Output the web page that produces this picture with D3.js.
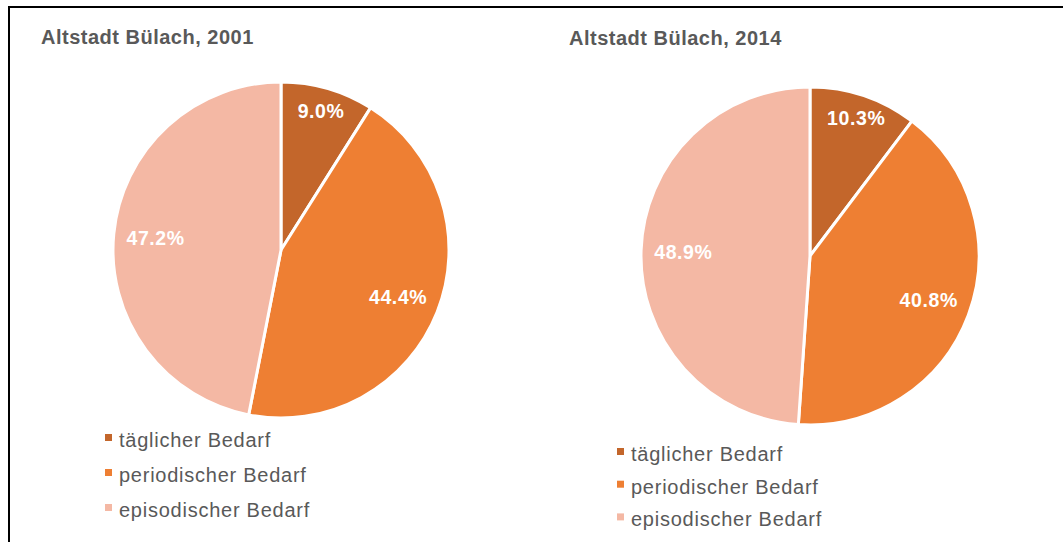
<!DOCTYPE html>
<html>
<head>
<meta charset="utf-8">
<script src="https://cdn.jsdelivr.net/npm/d3@7"></script>
<style>
  html, body { margin: 0; padding: 0; background: #fff; }
  svg { display: block; }
</style>
</head>
<body>
<svg id="chart" width="1063" height="542"></svg>
<script>
// Einzelhandelsangebot nach Bedarfsstufe, Altstadt Bülach
const categories = ["täglicher Bedarf", "periodischer Bedarf", "episodischer Bedarf"];
const colors = ["#C3662B", "#EE7F33", "#F4B8A4"];
const titles = ["Altstadt Bülach, 2001", "Altstadt Bülach, 2014"];
const values2001 = [9.0, 44.4, 47.2];
const values2014 = [10.3, 40.8, 48.9];

const svg = d3.select("#chart");
const W = 1063, H = 542;
const FONT = "Liberation Sans, Arial, sans-serif";

// frame: top and left edge only
svg.append("line").attr("x1", 8).attr("y1", 7).attr("x2", W).attr("y2", 7)
  .attr("stroke", "#000").attr("stroke-width", 2);
svg.append("line").attr("x1", 9).attr("y1", 6).attr("x2", 9).attr("y2", H)
  .attr("stroke", "#000").attr("stroke-width", 2);

const color = d3.scaleOrdinal().domain(categories).range(colors);
const fmt = d3.format(".1f");

const panels = [
  { title: titles[0], values: values2001, cx: 281, cy: 250, r: 168, tx: 41, ty: 43.5, lx: 105, ly: 447, step: 35 },
  { title: titles[1], values: values2014, cx: 810, cy: 256, r: 169, tx: 569, ty: 45, lx: 617, ly: 461, step: 32.7 }
];

const pie = d3.pie().sort(null).value(d => d.v);

panels.forEach(p => {
  const g = svg.append("g");
  g.append("text")
    .attr("x", p.tx).attr("y", p.ty)
    .attr("font-family", FONT)
    .attr("font-weight", "bold").attr("font-size", 20)
    .attr("letter-spacing", 0.5)
    .attr("fill", "#595959")
    .text(p.title);

  const data = categories.map((c, i) => ({ c, v: p.values[i] }));
  const arcs = pie(data);
  const arc = d3.arc().innerRadius(0).outerRadius(p.r);

  const pg = g.append("g").attr("transform", `translate(${p.cx},${p.cy})`);
  pg.selectAll("path").data(arcs).join("path")
    .attr("d", arc)
    .attr("fill", d => color(d.data.c))
    .attr("stroke", "#fff").attr("stroke-width", 3).attr("stroke-linejoin", "round");

  pg.selectAll("text").data(arcs).join("text")
    .attr("transform", d => {
      const a = (d.startAngle + d.endAngle) / 2;
      const share = (d.endAngle - d.startAngle) / (2 * Math.PI);
      const rr = p.r * (share < 0.15 ? 0.86 : 0.75);
      return `translate(${rr * Math.sin(a)},${-rr * Math.cos(a)})`;
    })
    .attr("text-anchor", "middle").attr("dy", "0.36em")
    .attr("font-family", FONT)
    .attr("font-weight", "bold").attr("font-size", 19.5)
    .attr("letter-spacing", 0.6)
    .attr("fill", "#fff")
    .text(d => fmt(d.data.v) + "%");

  const lg = g.append("g").attr("transform", `translate(${p.lx},${p.ly})`);
  const item = lg.selectAll("g").data(categories).join("g")
    .attr("transform", (d, i) => `translate(0,${i * p.step})`);
  item.append("rect").attr("x", 0).attr("y", -13).attr("width", 7).attr("height", 7)
    .attr("fill", d => color(d));
  item.append("text").attr("x", 14).attr("y", 0)
    .attr("font-family", FONT)
    .attr("font-size", 20).attr("letter-spacing", 0.75)
    .attr("fill", "#595959")
    .text(d => d);
});
</script>
</body>
</html>
